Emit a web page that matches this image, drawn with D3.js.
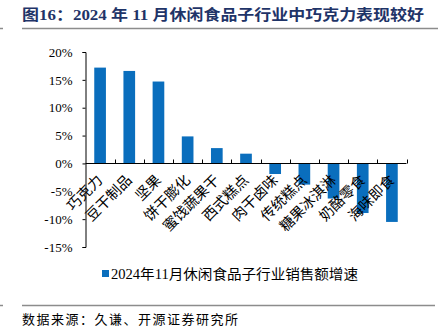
<!DOCTYPE html>
<html>
<head>
<meta charset="utf-8">
<script src="https://cdn.jsdelivr.net/npm/d3@7"></script>
<style>
  html, body { margin: 0; padding: 0; background: #fff; }
  svg { display: block; }
</style>
</head>
<body>
<svg id="chart" width="438" height="336"></svg>
<script>
// 2024年11月 休闲食品各子行业销售额增速
const categories = ["巧克力", "豆干制品", "坚果", "饼干膨化", "蜜饯蔬果干", "西式糕点",
                    "肉干卤味", "传统糕点", "糖果冰淇淋", "奶酪零食", "海味即食"];
const growth = [17.2, 16.6, 14.7, 4.85, 2.75, 1.75, -1.9, -3.8, -6.3, -8.9, -10.5];
const yTicks = [20, 15, 10, 5, 0, -5, -10, -15];
const seriesName = "2024年11月休闲食品子行业销售额增速";
const titleText = "图16：2024 年 11 月休闲食品子行业中巧克力表现较好";
const sourceText = "数据来源：久谦、开源证券研究所";

const svg = d3.select("#chart");
const FONT = "'Liberation Serif', 'Noto Sans CJK SC', serif";
const BLUE = "#0a6ebd";

// title + rules
svg.append("text")
  .attr("x", 22).attr("y", 20)
  .attr("font-family", FONT).attr("font-weight", "bold")
  .attr("font-size", 15).attr("fill", "#1f3468")
  .attr("textLength", 402).attr("lengthAdjust", "spacingAndGlyphs")
  .text(titleText);

const rule = (x1, x2, yy) => svg.append("line")
  .attr("x1", x1).attr("x2", x2).attr("y1", yy).attr("y2", yy)
  .attr("stroke", "#8c8c8c").attr("stroke-width", 1.5);
rule(22, 438, 28.5); rule(0, 3, 28.5);
rule(22, 435, 305.5); rule(0, 3, 305.5);

// scales
const x = d3.scaleBand().domain(categories).range([85.5, 406.5]).paddingInner(0.6).paddingOuter(0.3);
const y = d3.scaleLinear().domain([-15, 20]).range([247, 52]);

// y axis
const yAxis = svg.append("g").attr("transform", "translate(85.5,0)")
  .call(d3.axisLeft(y).tickValues(yTicks).tickSize(3).tickPadding(10)
        .tickFormat(d => d + "%"));
yAxis.select(".domain").attr("stroke", "#000");
yAxis.selectAll(".tick line").attr("stroke", "#000");
yAxis.selectAll("text").attr("font-family", FONT).attr("font-size", 13).attr("fill", "#000");

// bars
svg.append("g").selectAll("rect").data(categories).join("rect")
  .attr("x", d => x(d))
  .attr("width", x.bandwidth())
  .attr("y", (d, i) => y(Math.max(0, growth[i])))
  .attr("height", (d, i) => Math.abs(y(growth[i]) - y(0)))
  .attr("fill", BLUE);

// category axis along zero line, ticks between bands pointing up
const [r0, r1] = x.range();
const bandW = (r1 - r0) / categories.length;
const bounds = d3.range(1, categories.length + 1).map(i => r0 + i * bandW);
const zeroY = Math.round(y(0)) + 0.5;
svg.append("line").attr("x1", r0).attr("x2", r1).attr("y1", zeroY).attr("y2", zeroY)
  .attr("stroke", "#000");
svg.append("g").selectAll("line").data(bounds).join("line")
  .attr("x1", d => Math.round(d) + 0.5).attr("x2", d => Math.round(d) + 0.5)
  .attr("y1", zeroY - 4).attr("y2", zeroY)
  .attr("stroke", "#000");

// rotated category labels
const bandCenter = i => r0 + (i + 0.5) * bandW;
svg.append("g").selectAll("text").data(categories).join("text")
  .attr("transform", (d, i) => `translate(${bandCenter(i) + 3.5},${zeroY + 17.5}) rotate(-45)`)
  .attr("text-anchor", "end")
  .attr("font-family", FONT).attr("font-size", 14.5).attr("fill", "#000")
  .text(d => d);

// legend
svg.append("rect").attr("x", 102).attr("y", 270).attr("width", 7).attr("height", 7).attr("fill", BLUE);
svg.append("text").attr("x", 111).attr("y", 278.5)
  .attr("font-family", FONT).attr("font-size", 14).attr("fill", "#000")
  .attr("textLength", 247).attr("lengthAdjust", "spacingAndGlyphs")
  .text(seriesName);

// source
svg.append("text").attr("x", 22).attr("y", 324)
  .attr("font-family", FONT).attr("font-size", 13).attr("fill", "#000")
  .attr("textLength", 216).attr("lengthAdjust", "spacing")
  .text(sourceText);
</script>
</body>
</html>
